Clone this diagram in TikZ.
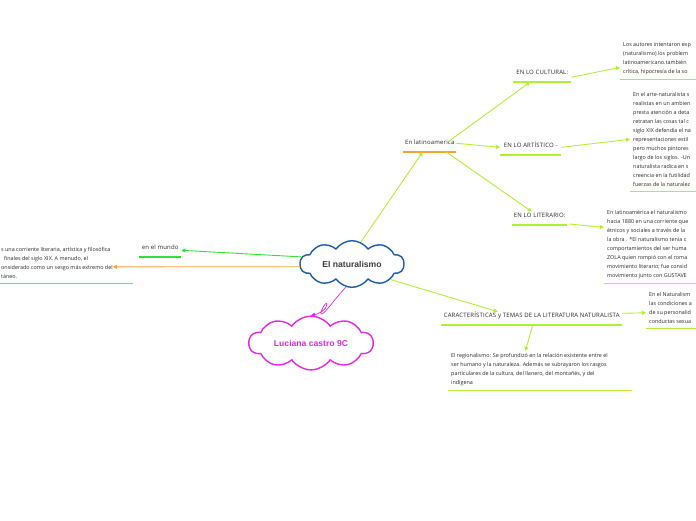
\documentclass[tikz,border=0pt]{standalone}
\usepackage{fontspec}
\setmainfont{Open Sans}
\newfontfamily\cloudfont{Liberation Sans}
\usetikzlibrary{shapes.symbols,arrows.meta}
\definecolor{MapLime}{RGB}{176,240,52}
\definecolor{MapGreen}{RGB}{52,222,52}
\definecolor{MapOrange}{RGB}{246,164,48}
\definecolor{MapBlue}{RGB}{30,92,164}
\definecolor{MapPink}{RGB}{226,40,226}
\definecolor{MapText}{RGB}{40,40,40}

\begin{document}
\begin{tikzpicture}[
        x=1pt, y=-1pt,
        tiny/.style={
            font=\fontsize{5.4}{9}\selectfont,
            text=MapText
        },
        topic/.style={
            font=\addfontfeatures{LetterSpace=3}\fontsize{6}{9}\selectfont,
            text=MapText,
            anchor=south west,
            inner xsep=1pt,
            inner ysep=2pt,
            text height=4pt,
            text depth=5pt,
            align=center
        },
        block/.style={
            tiny,
            anchor=north west,
            inner xsep=3pt,
            inner ysep=2pt,
            align=left
        },
        maincloud/.style={
            cloud,
            cloud puffs=10,
            cloud puff arc=110,
            aspect=2.4,
            draw=MapBlue,
            fill=white,
            line width=1.4pt,
            minimum width=104pt,
            minimum height=44pt,
            inner sep=0pt,
            text=MapText!90,
            font=\cloudfont\bfseries\fontsize{8.6}{10}\selectfont
        },
        namecloud/.style={
            maincloud,
            draw=MapPink,
            text=MapPink,
            aspect=2.7,
            minimum width=124pt
        },
        uline/.style={draw=MapLime, line width=1.3pt},
        link/.style={draw=MapLime, line width=0.9pt, -{Triangle[length=4pt,width=4pt]}}
    ]
        \clip (0,0) rectangle (696,520);
        \useasboundingbox (0,0) rectangle (696,520);

        % centre and author
        \node[maincloud] (centre) at (352,264) {El naturalismo};
        \node[namecloud] (author) at (311,343) {Luciana castro 9C};

        % first level
        \node[topic, minimum width=53pt] (latam) at (403,152) {En latinoamerica};
        \node[topic, minimum width=58pt] (cultural) at (513,82) {EN LO CULTURAL:};
        \node[topic, minimum width=61pt] (artistic) at (500,155) {EN LO ARTÍSTICO -};
        \node[topic, minimum width=55pt] (literary) at (512,225) {EN LO LITERARIO:};
        \node[topic, minimum width=181pt] (traits) at (441,325) {CARACTERÍSTICAS y TEMAS DE LA LITERATURA NATURALISTA};
        \node[topic, minimum width=42pt] (world) at (139,257) {en el mundo};

        % texts
        \node[block] (culturaltxt) at (620,40) {Los autores intentaron exp\\(naturalismo) los problem\\latinoamericano.también\\crítica, hipocresía de la so};
        \node[block] (artistictxt) at (630,90) {En el arte-naturalista s\\realistas en un ambien\\presta atención a deta\\retratan las cosas tal c\\siglo XIX defendía el na\\representaciones estil\\pero muchos pintores\\largo de los siglos. -Un\\naturalista radica en s\\creencia en la futilidad\\fuerzas de la naturalez};
        \node[block] (literarytxt) at (604,208) {En latinoamérica el naturalismo\\hacia 1880 en una corriente que\\étnicos y sociales a través de la\\la obra . *El naturalismo tenía c\\comportamientos del ser huma\\ZOLA quien rompió con el roma\\movimiento literario; fue consid\\movimiento junto con GUSTAVE};
        \node[block] (traitstxt) at (646,290) {En el Naturalism\\las condiciones a\\de su personalid\\conductas sexua};
        \node[block] (regiontxt) at (448,351) {El regionalismo: Se profundizó en la relación existente entre el\\ser humano y la naturaleza. Además se subrayaron los rasgos\\particulares de la cultura, del llanero, del montañés, y del\\indígena};
        \node[block, inner xsep=1pt] (definition) at (0,245) {s una corriente literaria, artística y filosófica\\\hspace{3pt}finales del siglo XIX. A menudo, el\\onsiderado como un sesgo más extremo del\\táneo.};

        % underlines
        \draw[uline, draw=MapOrange] (latam.south west) -- (latam.south east);
        \draw[uline] (cultural.south west) -- (cultural.south east);
        \draw[uline] (artistic.south west) -- (artistic.south east);
        \draw[uline] (literary.south west) -- (literary.south east);
        \draw[uline] (traits.south west) -- (traits.south east);
        \draw[uline, draw=MapGreen] (world.south west) -- (world.south east);
        \draw[uline] ([yshift=-3pt]culturaltxt.south west) -- ++(80,0);
        \draw[uline] ([yshift=-3pt]artistictxt.south west) -- ++(70,0);
        \draw[uline] ([yshift=-3pt]literarytxt.south west) -- ++(95,0);
        \draw[uline] ([yshift=-3pt]traitstxt.south west) -- ++(55,0);
        \draw[uline] ([yshift=-3pt]regiontxt.south west) -- ++(184,0);
        \draw[uline, draw=MapOrange] ([yshift=-3pt]definition.south west) -- ++(133,0);

        % connectors
        \draw[link] (centre.68) -- ([xshift=-7pt]latam.south);
        \draw[link] ([xshift=-8pt,yshift=-3pt]latam.north east) -- ([xshift=-12pt]cultural.south);
        \draw[link] ([yshift=2pt]latam.east) -- ([yshift=1pt]artistic.west);
        \draw[link] ([xshift=-10pt]latam.south east) -- ([xshift=-8pt]literary.north);
        \draw[link] ([yshift=-2pt]cultural.east) -- ([yshift=-9pt]culturaltxt.west);
        \draw[link] ([yshift=1pt]artistic.east) -- (artistictxt.west);
        \draw[link] ([xshift=2pt,yshift=1pt]literary.south east) -- ([yshift=17pt]literarytxt.west);
        \draw[link] (centre.-22) -- ([xshift=-34pt]traits.north);
        \draw[link] ([yshift=5pt]traits.east) -- ([yshift=-5pt]traitstxt.west);
        \draw[link] ([xshift=1pt]traits.south) -- ([xshift=-4pt]regiontxt.north);
        \draw[link, draw=MapGreen] (centre.172) -- (world.east);
        \draw[link, draw=MapOrange] (centre.183) -- ([xshift=-1pt,yshift=-4pt]definition.east);
        \draw[link, draw=MapPink, line width=0.7pt]
            (centre.-105) .. controls (334,300) and (326,312) .. (322,314)
            .. controls (318,316) and (326,300) .. (327,304)
            .. controls (327,310) and (318,314) .. (author.north);
    \end{tikzpicture}
\end{document}
